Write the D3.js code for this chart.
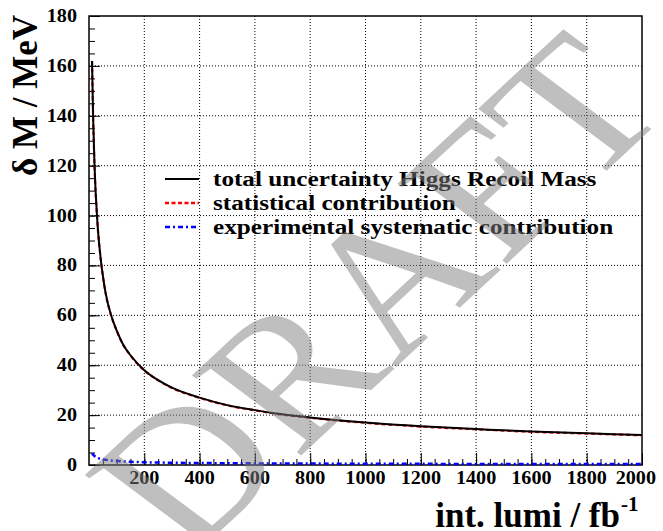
<!DOCTYPE html>
<html>
<head>
<meta charset="utf-8">
<script src="https://cdn.jsdelivr.net/npm/d3@7"></script>
<style>
html,body{margin:0;padding:0;background:#fff;}
svg{display:block;}
</style>
</head>
<body>
<svg id="chart" width="663" height="531"></svg>
<script>
// ---- data ----
const lumi = [11, 15, 20, 30, 40, 50, 60, 80, 100, 125, 150, 200, 250, 300, 400, 500, 600, 700, 800, 1000, 1200, 1400, 1600, 1800, 2000];
const totalUnc = [162, 139, 120, 98, 85, 76, 69, 60, 54, 48, 44, 38, 34, 31, 27, 24, 22, 20.3, 19, 17, 15.5, 14.4, 13.4, 12.7, 12.0];
const statUnc = [161.9, 138.9, 119.9, 97.9, 84.9, 75.9, 68.9, 59.9, 53.9, 47.9, 43.9, 37.9, 33.9, 30.9, 26.9, 23.9, 21.9, 20.2, 18.9, 16.9, 15.4, 14.3, 13.3, 12.6, 11.9];
const sysUnc = [4.8, 4.1, 3.6, 2.9, 2.5, 2.3, 2.1, 1.8, 1.6, 1.4, 1.3, 1.1, 1.0, 0.9, 0.8, 0.7, 0.65, 0.6, 0.57, 0.5, 0.46, 0.43, 0.4, 0.38, 0.36];
const xTickValues = [200, 400, 600, 800, 1000, 1200, 1400, 1600, 1800, 2000];
const yTickValues = [0, 20, 40, 60, 80, 100, 120, 140, 160, 180];
const legendLabels = ["total uncertainty Higgs Recoil Mass", "statistical contribution", "experimental systematic contribution"];

const svg = d3.select("#chart");
const L = 89, R = 642, T = 16, B = 465;
const x = d3.scaleLinear().domain([0, 2000]).range([L, R]);
const y = d3.scaleLinear().domain([0, 180]).range([B, T]);
const serif = "'Liberation Serif', 'Times New Roman', serif";

// helper: horizontally stretched text
function stext(g, tx, ty, str, size, anchor, sx, weight) {
  return g.append("g").attr("transform", `translate(${tx},${ty}) scale(${sx},1)`)
    .append("text").attr("x", 0).attr("y", 0)
    .attr("font-family", serif).attr("font-weight", weight || "bold")
    .attr("font-size", size).attr("text-anchor", anchor).attr("fill", "#000").text(str);
}

// grid
const grid = svg.append("g");
grid.selectAll("line.gx").data(xTickValues.filter(v => v < 2000)).enter().append("line")
  .attr("x1", d => x(d)).attr("x2", d => x(d)).attr("y1", T).attr("y2", B)
  .attr("stroke", "#000").attr("stroke-width", 1).attr("stroke-dasharray", "1,2");
grid.selectAll("line.gy").data(yTickValues.filter(v => v > 0 && v < 180)).enter().append("line")
  .attr("x1", L).attr("x2", R).attr("y1", d => y(d)).attr("y2", d => y(d))
  .attr("stroke", "#000").attr("stroke-width", 1).attr("stroke-dasharray", "1,2");

// axes with inward ticks
const xMinor = d3.range(50, 2000, 50);
const yMinor = d3.range(5, 180, 5);
const gx = svg.append("g").attr("transform", `translate(0,${B})`)
  .call(d3.axisTop(x).tickValues(xMinor).tickSize(6).tickFormat(""));
gx.select(".domain").remove();
const gx2 = svg.append("g").attr("transform", `translate(0,${B})`)
  .call(d3.axisTop(x).tickValues(xTickValues).tickSize(12).tickFormat(""));
gx2.select(".domain").remove();
const gy = svg.append("g").attr("transform", `translate(${L},0)`)
  .call(d3.axisRight(y).tickValues(yMinor).tickSize(6).tickFormat(""));
gy.select(".domain").remove();
const gy2 = svg.append("g").attr("transform", `translate(${L},0)`)
  .call(d3.axisRight(y).tickValues(yTickValues).tickSize(11).tickFormat(""));
gy2.select(".domain").remove();
svg.selectAll(".tick line").attr("stroke", "#000").attr("stroke-width", 1);

// frame
svg.append("rect").attr("x", L).attr("y", T).attr("width", R - L).attr("height", B - T)
  .attr("fill", "none").attr("stroke", "#000").attr("stroke-width", 1.5);

// tick labels
const labels = svg.append("g");
xTickValues.forEach(v => {
  if (v === 2000) stext(labels, 656, 484, String(v), 18, "end", 1.12);
  else stext(labels, x(v), 484, String(v), 18, "middle", 1.12);
});
yTickValues.forEach(v => stext(labels, 77, y(v) + 6, String(v), 18, "end", 1.12));

// axis titles
svg.append("text").attr("transform", `translate(37,15) rotate(-90)`)
  .attr("font-family", serif).attr("font-weight", "bold").attr("font-size", 35)
  .attr("text-anchor", "end").text("δ M / MeV");
svg.append("text").attr("x", 620).attr("y", 527)
  .attr("font-family", serif).attr("font-weight", "bold").attr("font-size", 35)
  .attr("text-anchor", "end").text("int. lumi / fb");
svg.append("text").attr("x", 621).attr("y", 511)
  .attr("font-family", serif).attr("font-weight", "bold").attr("font-size", 21)
  .attr("text-anchor", "start").text("-1");

// curves
const line = (vals) => d3.line().x((d, i) => x(lumi[i])).y(d => y(d)).curve(d3.curveMonotoneX)(vals);
svg.append("path").attr("d", line(statUnc)).attr("fill", "none").attr("stroke", "#ff0000")
  .attr("stroke-width", 2.2).attr("stroke-dasharray", "4,3");
svg.append("path").attr("d", line(totalUnc)).attr("fill", "none").attr("stroke", "#000")
  .attr("stroke-width", 2);
svg.append("path").attr("d", line(sysUnc)).attr("fill", "none").attr("stroke", "#0000ff")
  .attr("stroke-width", 2.5).attr("stroke-dasharray", "5,3,2,3");

// legend
const leg = svg.append("g");
const rows = [179, 203, 227];
const styles = [
  {c: "#000", d: null, w: 2},
  {c: "#ff0000", d: "4,2.5", w: 2.5},
  {c: "#0000ff", d: "5,3,2,3", w: 2.5}
];
legendLabels.forEach((lab, i) => {
  const l = leg.append("line").attr("x1", 165).attr("x2", 199).attr("y1", rows[i]).attr("y2", rows[i])
    .attr("stroke", styles[i].c).attr("stroke-width", styles[i].w);
  if (styles[i].d) l.attr("stroke-dasharray", styles[i].d);
  stext(leg, 213, rows[i] + 7, lab, 21, "start", 1.2);
});

// DRAFT watermark
svg.append("text").attr("transform", "translate(377,293) scale(1.2,1) rotate(-48.2)")
  .attr("font-family", serif).attr("font-size", 185).attr("text-anchor", "middle")
  .attr("dy", "0.33em").attr("fill", "#808080").attr("fill-opacity", 0.5).text("DRAFT");
</script>
</body>
</html>
